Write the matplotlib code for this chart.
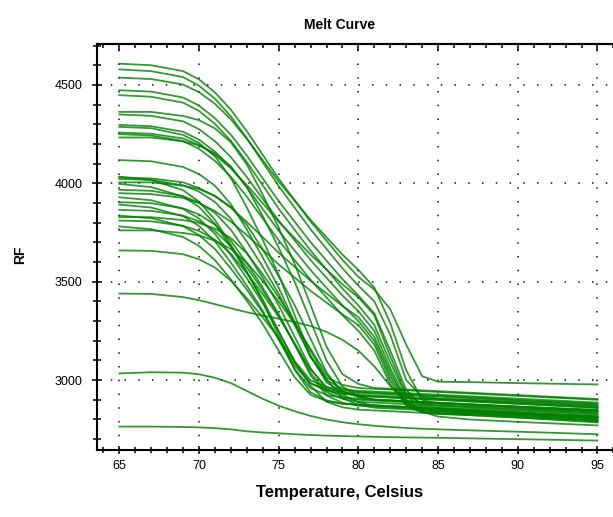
import matplotlib
matplotlib.use('Agg')
import matplotlib.pyplot as plt
from matplotlib.ticker import MultipleLocator

temps = [65, 67, 69, 70, 71, 72, 73, 74, 75, 76, 77, 78, 79, 80, 81, 82, 83, 84, 85, 87, 90, 95]

# Wells that melt late (drop around 81-83 C)
late_rf = [
    [4608, 4600, 4570, 4528, 4462, 4374, 4265, 4145, 4023, 3914, 3806, 3708, 3611, 3524, 3460, 3360, 3180, 3020, 2992, 2990, 2985, 2978],
    [4579, 4570, 4540, 4496, 4430, 4340, 4229, 4107, 3986, 3876, 3766, 3667, 3568, 3480, 3400, 3230, 3000, 2915, 2905, 2900, 2890, 2870],
    [4537, 4530, 4502, 4463, 4404, 4325, 4226, 4118, 4009, 3912, 3814, 3726, 3638, 3560, 3470, 3290, 3050, 2900, 2880, 2875, 2865, 2850],
    [4473, 4466, 4436, 4395, 4331, 4247, 4141, 4025, 3910, 3805, 3701, 3607, 3513, 3430, 3340, 3150, 2950, 2870, 2860, 2855, 2845, 2825],
    [4448, 4440, 4410, 4368, 4302, 4216, 4108, 3990, 3871, 3764, 3658, 3562, 3465, 3380, 3280, 3090, 2920, 2860, 2850, 2845, 2835, 2810],
    [4350, 4343, 4315, 4275, 4214, 4133, 4032, 3921, 3810, 3710, 3610, 3520, 3430, 3350, 3250, 3060, 2900, 2850, 2840, 2835, 2825, 2800],
    [4297, 4290, 4262, 4222, 4161, 4081, 3980, 3869, 3759, 3659, 3559, 3469, 3380, 3300, 3200, 3020, 2880, 2840, 2832, 2828, 2818, 2795],
    [4258, 4252, 4228, 4195, 4144, 4076, 3991, 3899, 3805, 3722, 3638, 3562, 3487, 3420, 3330, 3120, 2930, 2880, 2870, 2865, 2855, 2835],
    [4250, 4243, 4215, 4175, 4114, 4033, 3932, 3821, 3710, 3610, 3510, 3420, 3330, 3250, 3150, 2980, 2870, 2835, 2828, 2822, 2810, 2785],
    [4030, 4025, 4005, 3976, 3934, 3876, 3804, 3726, 3647, 3576, 3505, 3441, 3377, 3320, 3220, 3040, 2890, 2850, 2842, 2838, 2828, 2808],
    [3950, 3945, 3926, 3899, 3859, 3805, 3737, 3663, 3588, 3521, 3454, 3394, 3334, 3280, 3180, 3000, 2875, 2840, 2832, 2828, 2818, 2795],
]

# Wells that melt early (drop around 74-76 C)
early_rf = [
    [4363, 4363, 4342, 4321, 4279, 4209, 4096, 3942, 3774, 3591, 3381, 3170, 3030, 2981, 2960, 2956, 2952, 2948, 2944, 2936, 2924, 2904],
    [4287, 4280, 4246, 4205, 4137, 4027, 3877, 3713, 3535, 3330, 3125, 2988, 2941, 2920, 2916, 2912, 2908, 2904, 2900, 2892, 2880, 2860],
    [4233, 4233, 4213, 4193, 4153, 4086, 3980, 3833, 3673, 3500, 3300, 3100, 2967, 2920, 2900, 2896, 2892, 2888, 2884, 2876, 2864, 2844],
    [4118, 4112, 4083, 4047, 3988, 3894, 3765, 3623, 3470, 3293, 3117, 2999, 2958, 2940, 2936, 2932, 2928, 2924, 2920, 2912, 2900, 2880],
    [4034, 4017, 3965, 3907, 3815, 3688, 3549, 3399, 3226, 3053, 2938, 2897, 2880, 2876, 2872, 2868, 2864, 2860, 2856, 2848, 2836, 2816],
    [4022, 4017, 3990, 3958, 3905, 3820, 3703, 3576, 3438, 3279, 3119, 3013, 2976, 2960, 2956, 2952, 2948, 2944, 2940, 2932, 2920, 2900],
    [4005, 4005, 3988, 3971, 3937, 3880, 3789, 3664, 3528, 3381, 3210, 3040, 2927, 2887, 2870, 2866, 2862, 2858, 2854, 2846, 2834, 2814],
    [3997, 3981, 3933, 3880, 3794, 3677, 3549, 3410, 3250, 3090, 2983, 2946, 2930, 2926, 2922, 2918, 2914, 2910, 2906, 2898, 2886, 2866],
    [3967, 3962, 3935, 3903, 3850, 3764, 3647, 3519, 3380, 3220, 3060, 2953, 2916, 2900, 2896, 2892, 2888, 2884, 2880, 2872, 2860, 2840],
    [3929, 3914, 3870, 3821, 3743, 3635, 3518, 3391, 3244, 3097, 2999, 2965, 2950, 2946, 2942, 2938, 2934, 2930, 2926, 2918, 2906, 2886],
    [3904, 3899, 3873, 3842, 3790, 3708, 3594, 3470, 3335, 3180, 3025, 2922, 2885, 2870, 2866, 2862, 2858, 2854, 2850, 2842, 2830, 2810],
    [3892, 3877, 3833, 3784, 3705, 3597, 3480, 3352, 3205, 3057, 2959, 2925, 2910, 2906, 2902, 2898, 2894, 2890, 2886, 2878, 2866, 2846],
    [3865, 3860, 3836, 3807, 3758, 3680, 3573, 3456, 3329, 3183, 3036, 2939, 2905, 2890, 2886, 2882, 2878, 2874, 2870, 2862, 2850, 2830],
    [3836, 3823, 3782, 3737, 3666, 3567, 3460, 3343, 3209, 3074, 2985, 2953, 2940, 2936, 2932, 2928, 2924, 2920, 2916, 2908, 2896, 2876],
    [3828, 3828, 3813, 3799, 3770, 3722, 3644, 3538, 3421, 3296, 3150, 3005, 2908, 2874, 2860, 2856, 2852, 2848, 2844, 2836, 2824, 2804],
    [3811, 3807, 3784, 3758, 3713, 3642, 3544, 3437, 3321, 3187, 3054, 2965, 2933, 2920, 2916, 2912, 2908, 2904, 2900, 2892, 2880, 2860],
    [3781, 3767, 3727, 3682, 3610, 3511, 3403, 3285, 3150, 3015, 2925, 2894, 2880, 2876, 2872, 2868, 2864, 2860, 2856, 2848, 2836, 2816],
    [3761, 3761, 3748, 3735, 3709, 3666, 3597, 3503, 3399, 3287, 3158, 3029, 2943, 2913, 2900, 2896, 2892, 2888, 2884, 2876, 2864, 2844],
    [3659, 3657, 3640, 3614, 3572, 3505, 3416, 3319, 3214, 3093, 2971, 2890, 2862, 2850, 2846, 2842, 2838, 2834, 2830, 2822, 2810, 2790],
]

# Low-signal wells
low_rf = [
    [3440, 3438, 3422, 3406, 3386, 3365, 3345, 3328, 3312, 3295, 3275, 3245, 3205, 3150, 3070, 2970, 2890, 2840, 2815, 2800, 2788, 2770],
    [3034, 3040, 3038, 3030, 3012, 2985, 2945, 2905, 2870, 2842, 2818, 2800, 2786, 2776, 2768, 2762, 2757, 2753, 2750, 2745, 2738, 2725],
    [2764, 2764, 2762, 2760, 2756, 2750, 2740, 2734, 2730, 2725, 2721, 2718, 2716, 2714, 2712, 2710, 2709, 2708, 2707, 2704, 2700, 2693],
]

plt.rcParams['font.family'] = ['Liberation Sans', 'DejaVu Sans']

fig = plt.figure(figsize=(6.13, 5.17), dpi=100)
# axes run slightly past the right edge of the picture (cropped in the original)
ax = fig.add_axes([97 / 613, 67 / 517, 522 / 613, 406 / 517])

for rf in late_rf + early_rf + low_rf:
    ax.plot(temps, rf, color='#008000', lw=1.3, alpha=0.8)

ax.set_xlim(63.6, 96.35)
ax.set_ylim(2645, 4708)

ax.xaxis.set_major_locator(MultipleLocator(5))
ax.xaxis.set_minor_locator(MultipleLocator(1))
ax.yaxis.set_major_locator(MultipleLocator(500))
ax.yaxis.set_minor_locator(MultipleLocator(100))

ax.grid(True, which='major', color='#111111', linestyle=(0, (1, 8)), lw=1.1)

for side in ['left', 'bottom', 'top']:
    ax.spines[side].set_linewidth(1.5)
ax.spines['right'].set_visible(False)

ax.tick_params(which='both', direction='inout', width=1.1, labelsize=9, top=False, right=False)
ax.tick_params(axis='x', which='major', length=6, pad=4)
ax.tick_params(axis='x', which='minor', length=4)
ax.tick_params(axis='y', which='major', length=7, pad=7)
ax.tick_params(axis='y', which='minor', length=6)

# top axis: ticks pointing inwards, no labels
top = ax.secondary_xaxis('top')
top.xaxis.set_major_locator(MultipleLocator(5))
top.xaxis.set_minor_locator(MultipleLocator(1))
top.tick_params(which='both', direction='in', width=1.1, labeltop=False)
top.tick_params(which='major', length=5)
top.tick_params(which='minor', length=3)
top.spines['top'].set_linewidth(1.5)

fig.text(340 / 613, 1 - 25 / 517, 'Melt Curve', ha='center', va='center', fontsize=10, fontweight='bold')
fig.text(340 / 613, 1 - 493 / 517, 'Temperature, Celsius', ha='center', va='center', fontsize=12, fontweight='bold')
fig.text(20 / 613, 1 - 255 / 517, 'RF', ha='center', va='center', rotation=90, fontsize=10, fontweight='bold')

fig.savefig('out.png', dpi=100)
